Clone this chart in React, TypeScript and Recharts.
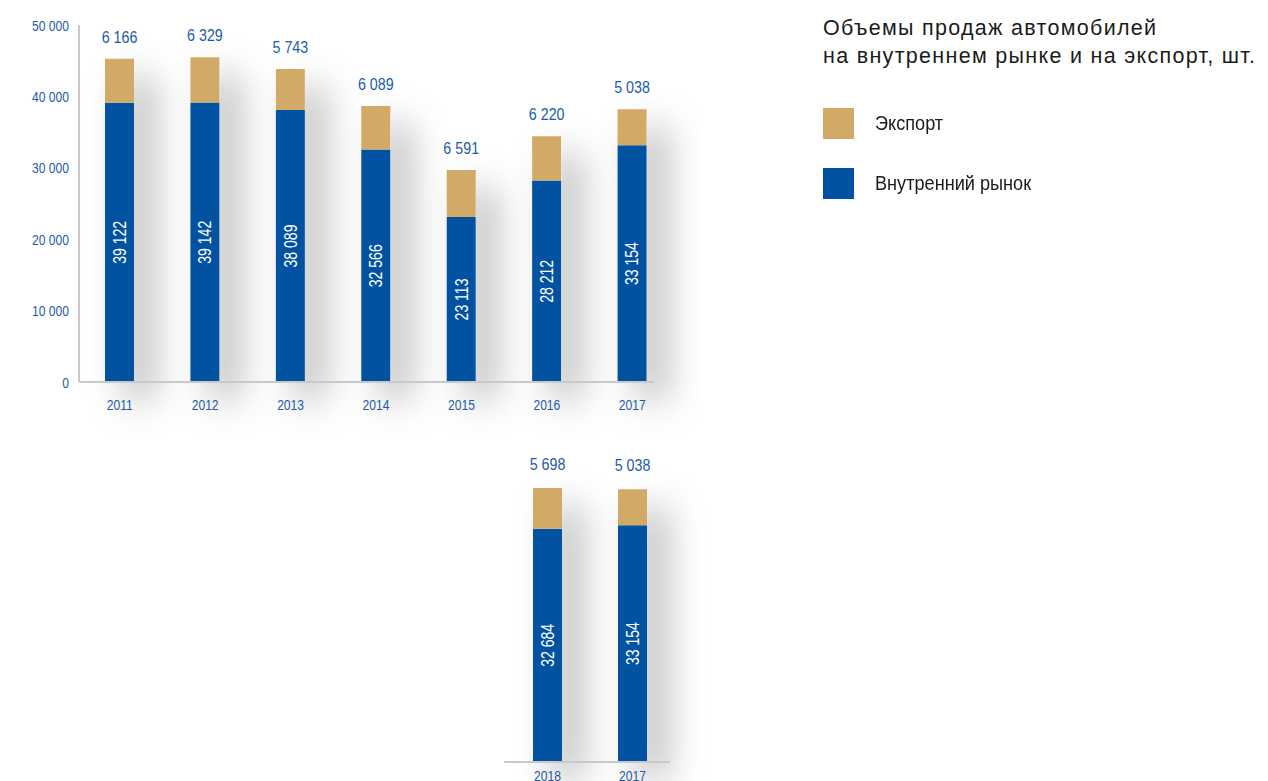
import React from "react";
import { BarChart, Bar, XAxis, YAxis, LabelList } from "recharts";

const years = ["2011", "2012", "2013", "2014", "2015", "2016", "2017"];
const domestic = [39122, 39142, 38089, 32566, 23113, 28212, 33154];
const exportSales = [6166, 6329, 5743, 6089, 6591, 6220, 5038];

const years2 = ["2018", "2017"];
const domestic2 = [32684, 33154];
const exportSales2 = [5698, 5038];

const yTicks = [0, 10000, 20000, 30000, 40000, 50000];

const BLUE = "#0152a1";
const GOLD = "#d2aa68";
const TEXT_BLUE = "#1e5ba8";
const AXIS_GREY = "#c9c9c9";
const SANS = "'Liberation Sans', Arial, sans-serif";

const fmt = (v: any) => String(v).replace(/\B(?=(\d{3})+(?!\d))/g, " ");

const buildRows = (cats: string[], dom: number[], exp: number[]) =>
  cats.map((year, i) => ({
    year,
    domestic: dom[i],
    exportSales: exp[i],
    total: dom[i] + exp[i],
  }));

const rows1 = buildRows(years, domestic, exportSales);
const rows2 = buildRows(years2, domestic2, exportSales2);

// svg text squeezed horizontally (the original uses a narrow font)
const NText = ({ x, y, rotate = 0, anchor = "middle", dy = "0", size, squeeze, fill, children }: any) => (
  <text
    transform={`translate(${x},${y}) rotate(${rotate}) scale(${squeeze},1)`}
    textAnchor={anchor}
    dy={dy}
    fontSize={size}
    fill={fill}
    fontFamily={SANS}
  >
    {children}
  </text>
);

const XTick = (props: any) => (
  <NText x={props.x} y={props.y} dy="0.71em" size={15.5} squeeze={0.78} fill={TEXT_BLUE}>
    {props.payload.value}
  </NText>
);

const YTick = (props: any) => (
  <NText x={props.x} y={props.y} anchor="end" dy="0.355em" size={15.5} squeeze={0.78} fill={TEXT_BLUE}>
    {fmt(props.payload.value)}
  </NText>
);

const insideLabel = (props: any) => {
  const vb = props.viewBox || props;
  return (
    <NText
      x={vb.x + vb.width / 2}
      y={vb.y + vb.height / 2}
      rotate={-90}
      dy="0.355em"
      size={18}
      squeeze={0.78}
      fill="#fff"
    >
      {fmt(props.value)}
    </NText>
  );
};

const topLabel = (offset: number) => (props: any) => {
  const vb = props.viewBox || props;
  return (
    <NText x={vb.x + vb.width / 2} y={vb.y - offset} size={17} squeeze={0.84} fill={TEXT_BLUE}>
      {fmt(props.value)}
    </NText>
  );
};

const ShadowDefs = ({ id }: { id: string }) => (
  <defs>
    <filter id={id} x="-200%" y="-25%" width="600%" height="170%">
      <feDropShadow dx="20" dy="18" stdDeviation="18" floodColor="#000" floodOpacity="0.28" />
    </filter>
  </defs>
);

const renderBars = (shadowId: string, topOffset: number) => [
  <Bar
    key="shadow"
    dataKey="total"
    fill="#fff"
    barSize={29}
    filter={`url(#${shadowId})`}
    isAnimationActive={false}
  />,
  <Bar key="dom" dataKey="domestic" stackId="a" fill={BLUE} barSize={29} isAnimationActive={false}>
    <LabelList dataKey="domestic" content={insideLabel} />
  </Bar>,
  <Bar key="exp" dataKey="exportSales" stackId="a" fill={GOLD} barSize={29} isAnimationActive={false}>
    <LabelList dataKey="exportSales" content={topLabel(topOffset)} />
  </Bar>,
];

export default function App() {
  return (
    <div style={{ position: "relative", width: 1268, height: 781, overflow: "hidden", background: "#fff" }}>
      <style>{"body{margin:0;overflow:hidden}"}</style>

      <div style={{ position: "absolute", left: 0, top: 0 }}>
        <BarChart
          width={700}
          height={470}
          data={rows1}
          margin={{ top: 25, right: 46, bottom: 48, left: 0 }}
          barGap={-29}
        >
          <ShadowDefs id="barShadow1" />
          <YAxis
            width={79}
            domain={[0, 50000]}
            ticks={yTicks}
            axisLine={{ stroke: AXIS_GREY, strokeWidth: 2 }}
            tickLine={false}
            tickSize={6}
            tickMargin={4}
            tick={YTick}
          />
          <XAxis
            dataKey="year"
            height={40}
            padding={{ left: -2, right: -21 }}
            axisLine={{ stroke: AXIS_GREY, strokeWidth: 2 }}
            tickLine={false}
            tickSize={6}
            tickMargin={11}
            tick={XTick}
          />
          {renderBars("barShadow1", 16)}
        </BarChart>
      </div>

      <div style={{ position: "absolute", left: 480, top: 380 }}>
        <BarChart
          width={230}
          height={422}
          data={rows2}
          margin={{ top: 25, right: 40, bottom: 0, left: 24 }}
          barGap={-29}
        >
          <ShadowDefs id="barShadow2" />
          <YAxis hide domain={[0, 50000]} ticks={yTicks} />
          <XAxis
            dataKey="year"
            height={40}
            padding={{ left: 1, right: -5 }}
            axisLine={{ stroke: AXIS_GREY, strokeWidth: 2 }}
            tickLine={false}
            tickSize={6}
            tickMargin={2}
            tick={XTick}
          />
          {renderBars("barShadow2", 18)}
        </BarChart>
      </div>

      <div
        style={{
          position: "absolute",
          left: 823,
          top: 14,
          fontFamily: SANS,
          fontSize: 21.5,
          letterSpacing: "1.3px",
          lineHeight: "28px",
          color: "#1b1b1b",
          whiteSpace: "nowrap",
        }}
      >
        Объемы продаж автомобилей
        <br />
        на внутреннем рынке и на экспорт, шт.
      </div>

      {[
        { label: "Экспорт", color: GOLD, top: 108 },
        { label: "Внутренний рынок", color: BLUE, top: 168 },
      ].map((item) => (
        <div
          key={item.label}
          style={{ position: "absolute", left: 823, top: item.top, display: "flex", alignItems: "center" }}
        >
          <div style={{ width: 31, height: 31, background: item.color }} />
          <span
            style={{
              display: "inline-block",
              marginLeft: 21,
              fontFamily: SANS,
              fontSize: 19.5,
              color: "#1b1b1b",
              whiteSpace: "nowrap",
              transform: "scaleX(0.93)",
              transformOrigin: "left center",
            }}
          >
            {item.label}
          </span>
        </div>
      ))}
    </div>
  );
}
